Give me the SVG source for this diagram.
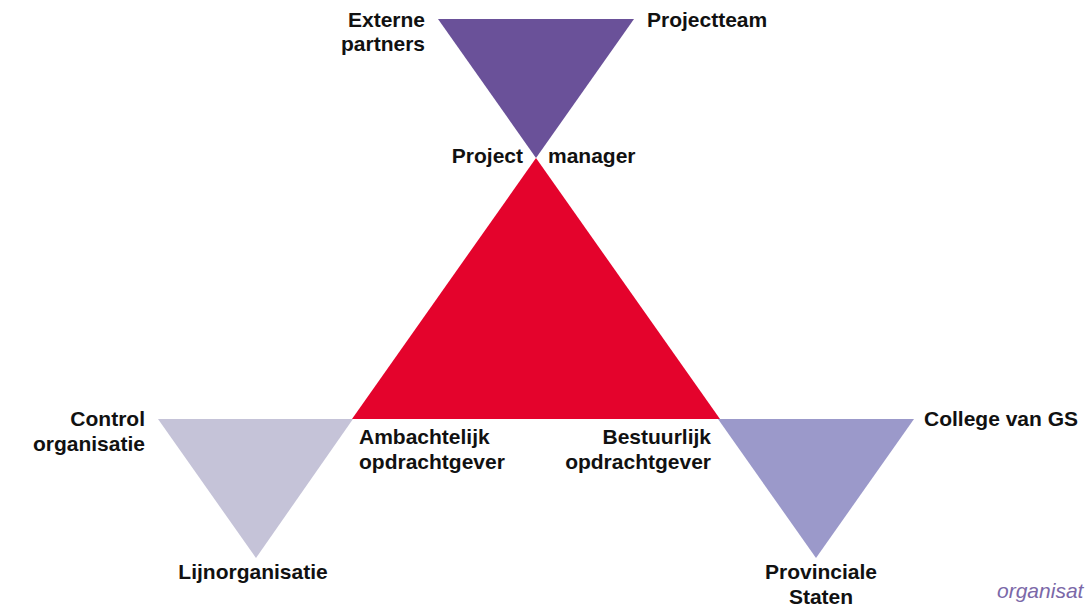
<svg xmlns="http://www.w3.org/2000/svg" width="1087" height="606" viewBox="0 0 1087 606">
<style>
.t{font-family:"Liberation Sans",Arial,sans-serif;font-weight:bold;font-size:21px;fill:#111}
.e{text-anchor:end}.m{text-anchor:middle}
.i{font-family:"Liberation Sans",Arial,sans-serif;font-style:italic;font-size:21px;fill:#7B68A8}
</style>
<rect width="1087" height="606" fill="#fff"/>
<g id="projectteam"><polygon points="438,19 634,19 536,158" fill="#6A5199"/></g>
<g id="opdrachtgever"><polygon points="536,158 720,419 352,419" fill="#E4032C"/></g>
<g id="lijn"><polygon points="158,419 353,419 256,558" fill="#C5C3D8"/></g>
<g id="bestuur"><polygon points="718,419 914,419 816,558" fill="#9B99CA"/></g>
<g id="connectors"></g>
<g id="labels">
<text class="t e" x="425" y="27">Externe</text>
<text class="t e" x="425" y="51">partners</text>
<text class="t" x="647" y="27">Projectteam</text>
<text class="t e" x="523" y="163">Project</text>
<text class="t" x="548" y="163">manager</text>
<text class="t e" x="145" y="426">Control</text>
<text class="t e" x="145" y="451">organisatie</text>
<text class="t m" x="253" y="579">Lijnorganisatie</text>
<text class="t" x="359" y="444">Ambachtelijk</text>
<text class="t" x="359" y="469">opdrachtgever</text>
<text class="t e" x="711" y="444">Bestuurlijk</text>
<text class="t e" x="711" y="469">opdrachtgever</text>
<text class="t" x="924" y="426">College van GS</text>
<text class="t m" x="821" y="579">Provinciale</text>
<text class="t m" x="821" y="604">Staten</text>
<text class="i" x="997" y="598">organisat</text>
</g>
</svg>
